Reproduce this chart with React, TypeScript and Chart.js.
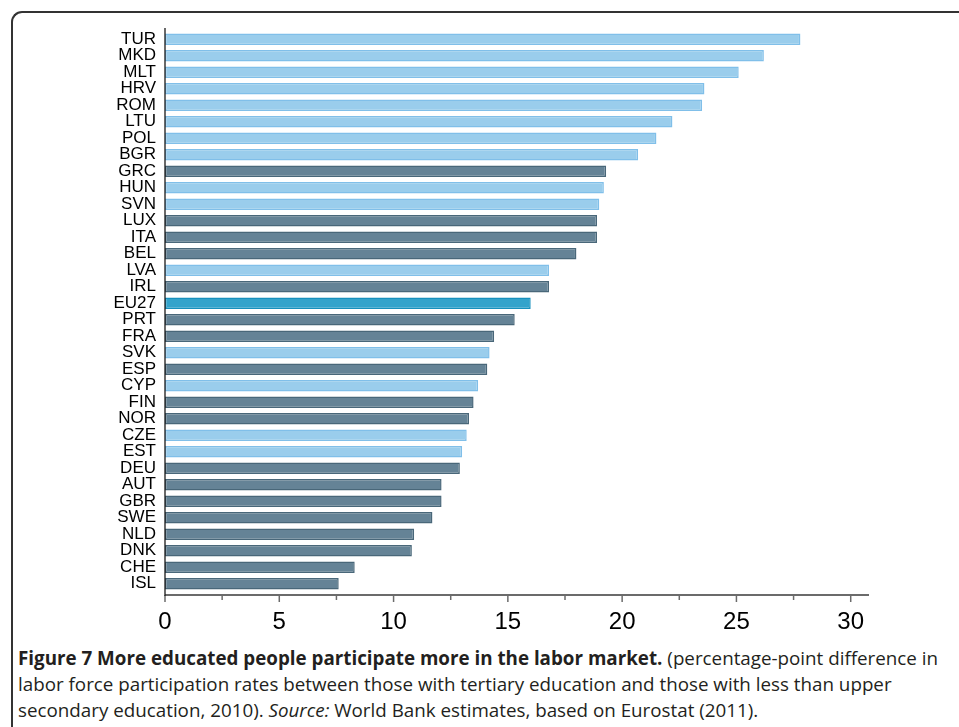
import React, { useEffect, useRef } from 'react';
import { Chart, registerables } from 'chart.js';

Chart.register(...registerables);

// ---- data ----
const countries = [
  'TUR', 'MKD', 'MLT', 'HRV', 'ROM', 'LTU', 'POL', 'BGR', 'GRC', 'HUN', 'SVN',
  'LUX', 'ITA', 'BEL', 'LVA', 'IRL', 'EU27', 'PRT', 'FRA', 'SVK', 'ESP', 'CYP',
  'FIN', 'NOR', 'CZE', 'EST', 'DEU', 'AUT', 'GBR', 'SWE', 'NLD', 'DNK', 'CHE', 'ISL',
];
const values = [
  27.8, 26.2, 25.1, 23.6, 23.5, 22.2, 21.5, 20.7, 19.3, 19.2, 19.0,
  18.9, 18.9, 18.0, 16.8, 16.8, 16.0, 15.3, 14.4, 14.2, 14.1, 13.7,
  13.5, 13.3, 13.2, 13.0, 12.9, 12.1, 12.1, 11.7, 10.9, 10.8, 8.3, 7.6,
];
// group: 'new' = new member / candidate states (light), 'old' = EU15 & EFTA (dark), 'avg' = EU27
const groups = [
  'new', 'new', 'new', 'new', 'new', 'new', 'new', 'new', 'old', 'new', 'new',
  'old', 'old', 'old', 'new', 'old', 'avg', 'old', 'old', 'new', 'old', 'new',
  'old', 'old', 'new', 'new', 'old', 'old', 'old', 'old', 'old', 'old', 'old', 'old',
];
const xTicks = [0, 5, 10, 15, 20, 25, 30];

const fillColors: Record<string, string> = { new: '#9acdec', old: '#658396', avg: '#33a3cb' };
const edgeColors: Record<string, string> = { new: '#80bfe9', old: '#496779', avg: '#1790bd' };

const axisPlugin = {
  id: 'customAxes',
  afterDraw(chart: any) {
    const { ctx, chartArea } = chart;
    const xs = chart.scales.x;
    const axisY = chartArea.bottom + 3;
    ctx.save();
    // x axis line
    ctx.strokeStyle = '#6b6b6b';
    ctx.lineWidth = 2;
    ctx.beginPath();
    ctx.moveTo(chartArea.left, axisY);
    ctx.lineTo(chartArea.right, axisY);
    ctx.stroke();
    // ticks (major every 5, minor every 2.5)
    ctx.lineWidth = 1.5;
    for (let i = 0; i < xTicks.length; i++) {
      const major = xs.getPixelForValue(xTicks[i]);
      ctx.beginPath();
      ctx.moveTo(major, axisY);
      ctx.lineTo(major, axisY + 7);
      ctx.stroke();
      if (i < xTicks.length - 1) {
        const minor = xs.getPixelForValue((xTicks[i] + xTicks[i + 1]) / 2);
        ctx.beginPath();
        ctx.moveTo(minor, axisY);
        ctx.lineTo(minor, axisY + 5);
        ctx.stroke();
      }
    }
    // y axis line
    ctx.strokeStyle = '#1a1a1a';
    ctx.lineWidth = 1.3;
    ctx.beginPath();
    ctx.moveTo(chartArea.left, chartArea.top - 3);
    ctx.lineTo(chartArea.left, axisY + 1);
    ctx.stroke();
    ctx.restore();
  },
};

function BarChart() {
  const ref = useRef<HTMLCanvasElement | null>(null);
  useEffect(() => {
    if (!ref.current) return;
    const chart = new Chart(ref.current, {
      type: 'bar',
      data: {
        labels: countries,
        datasets: [
          {
            data: values,
            backgroundColor: groups.map((g) => fillColors[g]),
            borderColor: groups.map((g) => edgeColors[g]),
            borderWidth: 1.5,
            borderSkipped: false,
            barPercentage: 0.7,
            categoryPercentage: 1,
          },
        ],
      },
      options: {
        indexAxis: 'y',
        animation: false,
        responsive: false,
        maintainAspectRatio: false,
        events: [],
        layout: { padding: { top: 31, right: 90, bottom: 0, left: 0 } },
        plugins: { legend: { display: false }, tooltip: { enabled: false } },
        scales: {
          x: {
            type: 'linear',
            min: 0,
            max: 30.8,
            grid: { display: false, drawTicks: false },
            border: { display: false },
            ticks: {
              stepSize: 5,
              includeBounds: false,
              autoSkip: false,
              maxRotation: 0,
              padding: 16,
              color: '#000',
              font: { family: '"Liberation Sans", Arial, sans-serif', size: 24 },
              callback: (v: any) => (xTicks.includes(Number(v)) ? String(v) : ''),
            },
            afterFit: (s: any) => {
              s.height = 48;
            },
          },
          y: {
            type: 'category',
            grid: { display: false, drawTicks: false },
            border: { display: false },
            ticks: {
              autoSkip: false,
              padding: 9,
              color: '#000',
              font: { family: '"Liberation Sans", Arial, sans-serif', size: 17, lineHeight: 1 },
            },
            afterFit: (s: any) => {
              s.width = 165;
            },
          },
        },
      },
      plugins: [axisPlugin],
    });
    return () => chart.destroy();
  }, []);
  return (
    <canvas
      ref={ref}
      width={959}
      height={640}
      style={{ position: 'absolute', left: 0, top: 0, width: 959, height: 640 }}
    />
  );
}

export default function App() {
  return (
    <div
      style={{
        position: 'fixed',
        left: 0,
        top: 0,
        width: 959,
        height: 727,
        overflow: 'hidden',
        background: '#fff',
      }}
    >
      <div
        style={{
          position: 'absolute',
          left: 11,
          top: 11,
          width: 1100,
          height: 900,
          borderTop: '2px solid #333',
          borderLeft: '2px solid #333',
          borderTopLeftRadius: 11,
          boxSizing: 'border-box',
        }}
      />
      <BarChart />
      <div
        style={{
          position: 'absolute',
          left: 18,
          top: 645,
          fontFamily: '"Open Sans", sans-serif',
          fontSize: 18.8,
          lineHeight: '26px',
          color: '#231f20',
          whiteSpace: 'nowrap',
        }}
      >
        <div>
          <span style={{ fontWeight: 700 }}>
            Figure 7 More educated people participate more in the labor market.
          </span>{' '}
          (percentage-point difference in
        </div>
        <div>
          labor force participation rates between those with tertiary education and those with less than upper
        </div>
        <div>
          secondary education, 2010). <i>Source:</i> World Bank estimates, based on Eurostat (2011).
        </div>
      </div>
    </div>
  );
}
